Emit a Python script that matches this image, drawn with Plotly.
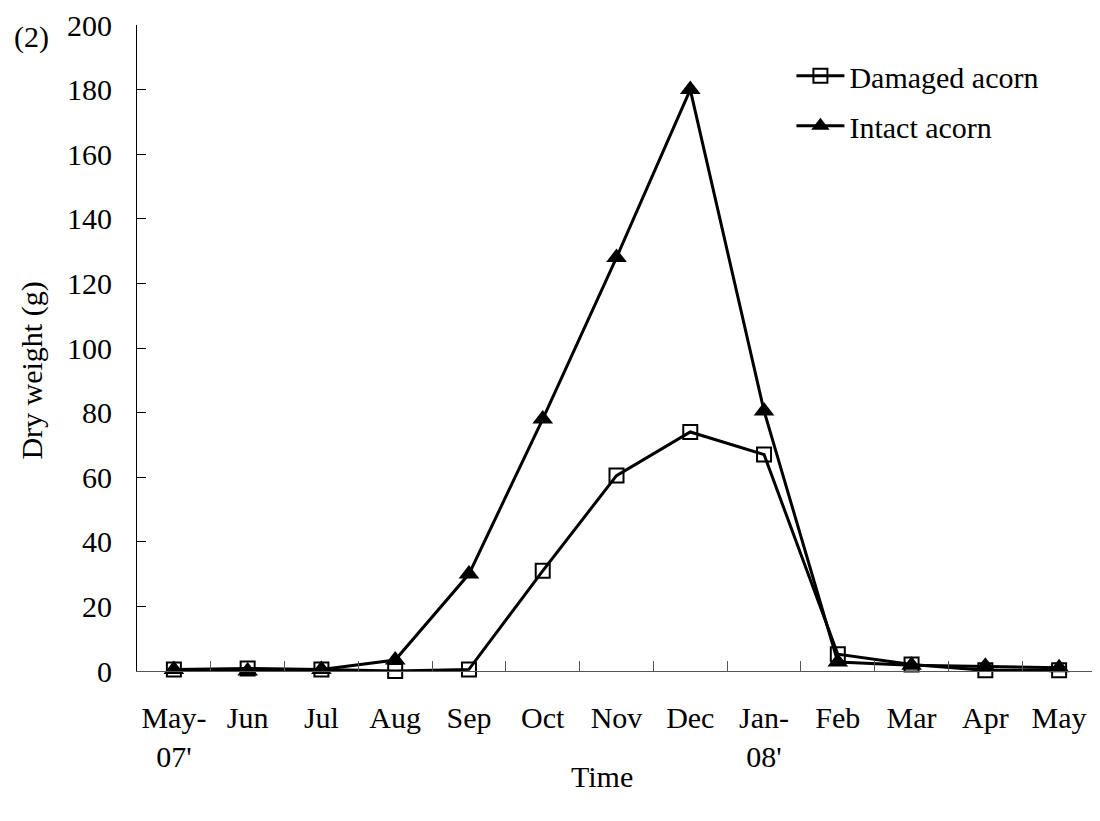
import plotly.graph_objects as go

months = ["May-<br>07'", "Jun", "Jul", "Aug", "Sep", "Oct", "Nov", "Dec",
          "Jan-<br>08'", "Feb", "Mar", "Apr", "May"]
damaged = [0.5, 0.8, 0.5, 0.0, 0.5, 31, 60.5, 74, 67, 5.2, 2.0, 0.2, 0.2]
intact = [0.5, 0.0, 0.5, 3.4, 30, 78, 128, 180, 80.5, 2.8, 1.8, 1.5, 1.0]

FONT = "Liberation Serif, Times New Roman, serif"
FS = 30

fig = go.Figure()
fig.add_trace(go.Scatter(
    x=months, y=damaged, name="Damaged acorn", mode="lines+markers",
    line=dict(color="black", width=3),
    marker=dict(symbol="square-open", size=14, color="black", line=dict(width=2)),
    cliponaxis=False, legendgroup="a"))
fig.add_trace(go.Scatter(
    x=months, y=intact, name="Intact acorn", mode="lines+markers",
    line=dict(color="black", width=3),
    marker=dict(symbol="triangle-up", size=18, color="black"),
    cliponaxis=False, legendgroup="b"))

fig.update_layout(
    width=1100, height=821,
    margin=dict(l=129, r=12, t=17, b=158),
    paper_bgcolor="white", plot_bgcolor="white",
    font=dict(family=FONT, size=FS, color="black"),
    showlegend=True,
    legend=dict(x=0.6824, y=0.9615, xanchor="left", yanchor="top",
                font=dict(size=FS), tracegroupgap=8, itemwidth=48,
                bgcolor="rgba(0,0,0,0)"),
)
fig.update_xaxes(
    type="category", range=[-0.5, len(months) - 0.5],
    tickson="boundaries", ticks="inside", ticklen=10,
    tickcolor="#555", showline=True, linecolor="#555", linewidth=1,
    showgrid=False, zeroline=False, ticklabelstandoff=20, automargin=False,
    tickangle=0, ticklabeloverflow="allow", tickfont=dict(size=FS))
fig.update_yaxes(
    range=[0, 200], dtick=20, ticks="inside", ticklen=9,
    tickcolor="black", showline=True, linecolor="black", linewidth=1,
    showgrid=False, zeroline=False, ticklabelstandoff=18, automargin=False,
    ticklabeloverflow="allow", tickfont=dict(size=FS))

fig.add_annotation(text="(2)", xref="paper", yref="paper", x=-0.1303, y=1.0,
                   xanchor="left", yanchor="middle", showarrow=False,
                   font=dict(size=FS), yshift=-12)
fig.add_annotation(text="Dry weight (g)", xref="paper", yref="paper",
                   x=0, y=0.465, xshift=-124, textangle=-90, showarrow=False,
                   font=dict(size=FS))
fig.add_annotation(text="Time", xref="paper", yref="paper",
                   x=0.485, y=0, yshift=-124, showarrow=False,
                   font=dict(size=FS))

fig.write_html("out.html")
